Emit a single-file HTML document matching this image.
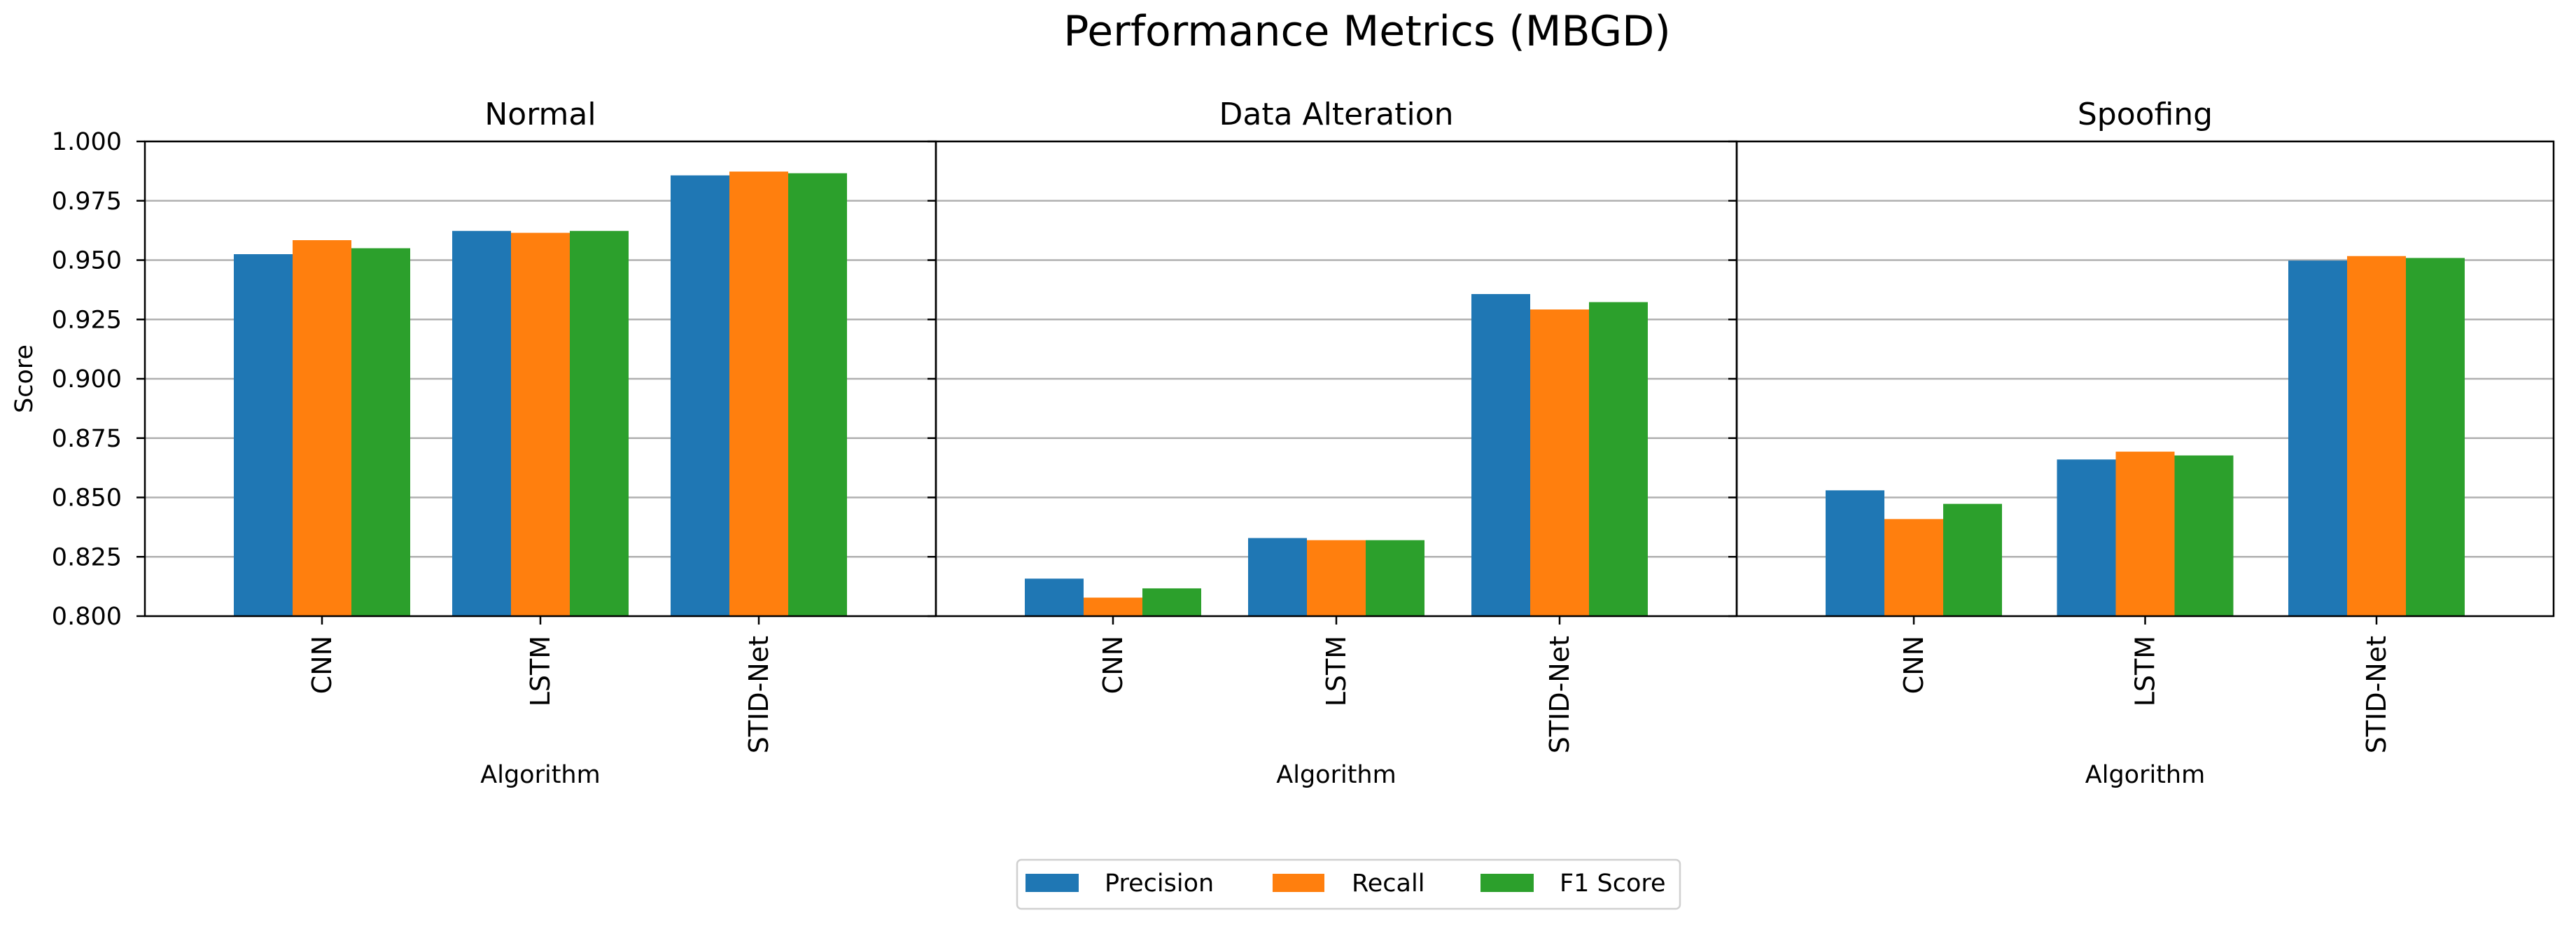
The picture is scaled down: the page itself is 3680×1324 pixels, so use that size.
<!DOCTYPE html>
<html><head><meta charset="utf-8"><style>
html,body{margin:0;padding:0;background:#fff;}
svg{display:block;font-family:"DejaVu Sans","Liberation Sans",sans-serif;}
</style></head><body>
<svg id="chart" width="3680" height="1324" viewBox="0 0 3680 1324" xmlns="http://www.w3.org/2000/svg">
<rect width="3680" height="1324" fill="#fff"/>
<text x="1953" y="65" font-size="60" text-anchor="middle" fill="#000">Performance Metrics (MBGD)</text>
<text transform="translate(46,541) rotate(-90)" font-size="35" text-anchor="middle" fill="#000">Score</text>
<g id="panels"></g>
<g>
<rect x="1453" y="1228" width="947" height="70" rx="6" fill="#fff" stroke="#d0d0d0" stroke-width="2.5"/>
<rect x="1465" y="1248" width="76" height="26" fill="#1f77b4"/>
<text x="1578" y="1273" font-size="35">Precision</text>
<rect x="1818" y="1248" width="74" height="26" fill="#ff7f0e"/>
<text x="1931" y="1273" font-size="35">Recall</text>
<rect x="2115" y="1248" width="76" height="26" fill="#2ca02c"/>
<text x="2228" y="1273" font-size="35">F1 Score</text>
</g>
</svg>
<script>
const panelTitles = ["Normal", "Data Alteration", "Spoofing"];
const categories = ["CNN", "LSTM", "STID-Net"];
const seriesNames = ["Precision", "Recall", "F1 Score"];
const precision = [[0.9525, 0.9623, 0.9857], [0.8158, 0.8329, 0.9357], [0.8530, 0.8660, 0.9498]];
const recall = [[0.9584, 0.9615, 0.9873], [0.8078, 0.8320, 0.9292], [0.8409, 0.8693, 0.9517]];
const f1 = [[0.9550, 0.9623, 0.9866], [0.8117, 0.8320, 0.9323], [0.8473, 0.8677, 0.9509]];
const yTicks = [0.800, 0.825, 0.850, 0.875, 0.900, 0.925, 0.950, 0.975, 1.000];

const NS = "http://www.w3.org/2000/svg";
const colors = ["#1f77b4", "#ff7f0e", "#2ca02c"];
const series = [precision, recall, f1];
const panelEdges = [[207, 1337], [1337, 2481], [2481, 3648]];
const TOP = 202, BOT = 880, YMIN = 0.8, YMAX = 1.0;
function yScale(v){ return BOT - (v - YMIN) / (YMAX - YMIN) * (BOT - TOP); }
function mk(tag, attrs, parent){ const e = document.createElementNS(NS, tag); for (const k in attrs) e.setAttribute(k, attrs[k]); parent.appendChild(e); return e; }
const root = document.getElementById("panels");

panelEdges.forEach(function(edge, p){
  const L = edge[0], R = edge[1];
  const g = mk("g", {}, root);
  
  
  const spacing = (R - L - 506) / 2;
  function xScale(i){ return L + 253 + i * spacing; }
  const bw = 84;
  yTicks.forEach(function(t){
    const y = yScale(t);
    const gl = mk("line", {x1: L, x2: R, y1: y, y2: y, stroke: "#b0b0b0", "stroke-width": 2.5}, g);
    
    
    const tk = mk("line", {x1: L - 12, x2: L, y1: y, y2: y, stroke: "#000", "stroke-width": 2.5}, g);
    
    
    if (p === 0) {
      const tl = mk("text", {x: 174, y: y + 12, "font-size": 35, "text-anchor": "end"}, g);
      tl.textContent = t.toFixed(3);
      
      
    }
  });
  categories.forEach(function(c, i){
    series.forEach(function(s, k){
      const v = s[p][i];
      const x = xScale(i) + (k - 1.5) * bw;
      const y = yScale(v);
      const b = mk("rect", {x: x, y: y, width: bw, height: BOT - y, fill: colors[k]}, g);
      
      
    });
    const xt = xScale(i);
    const tk = mk("line", {x1: xt, x2: xt, y1: BOT, y2: BOT + 12, stroke: "#000", "stroke-width": 2.5}, g);
    
    
    const tl = mk("text", {transform: "translate(" + (xt + 13) + "," + (BOT + 28) + ") rotate(-90)", "font-size": 38, "text-anchor": "end"}, g);
    tl.textContent = c;
    
    
  });
  const fr = mk("rect", {x: L, y: TOP, width: R - L, height: BOT - TOP, fill: "none", stroke: "#000", "stroke-width": 2.5}, g);
  
  
  const tt = mk("text", {x: (L + R) / 2, y: 178, "font-size": 44, "text-anchor": "middle"}, g);
  tt.textContent = panelTitles[p];
  
  
  const xl = mk("text", {x: (L + R) / 2, y: 1118, "font-size": 35, "text-anchor": "middle"}, g);
  xl.textContent = "Algorithm";
  
  
});
</script>
</body></html>
